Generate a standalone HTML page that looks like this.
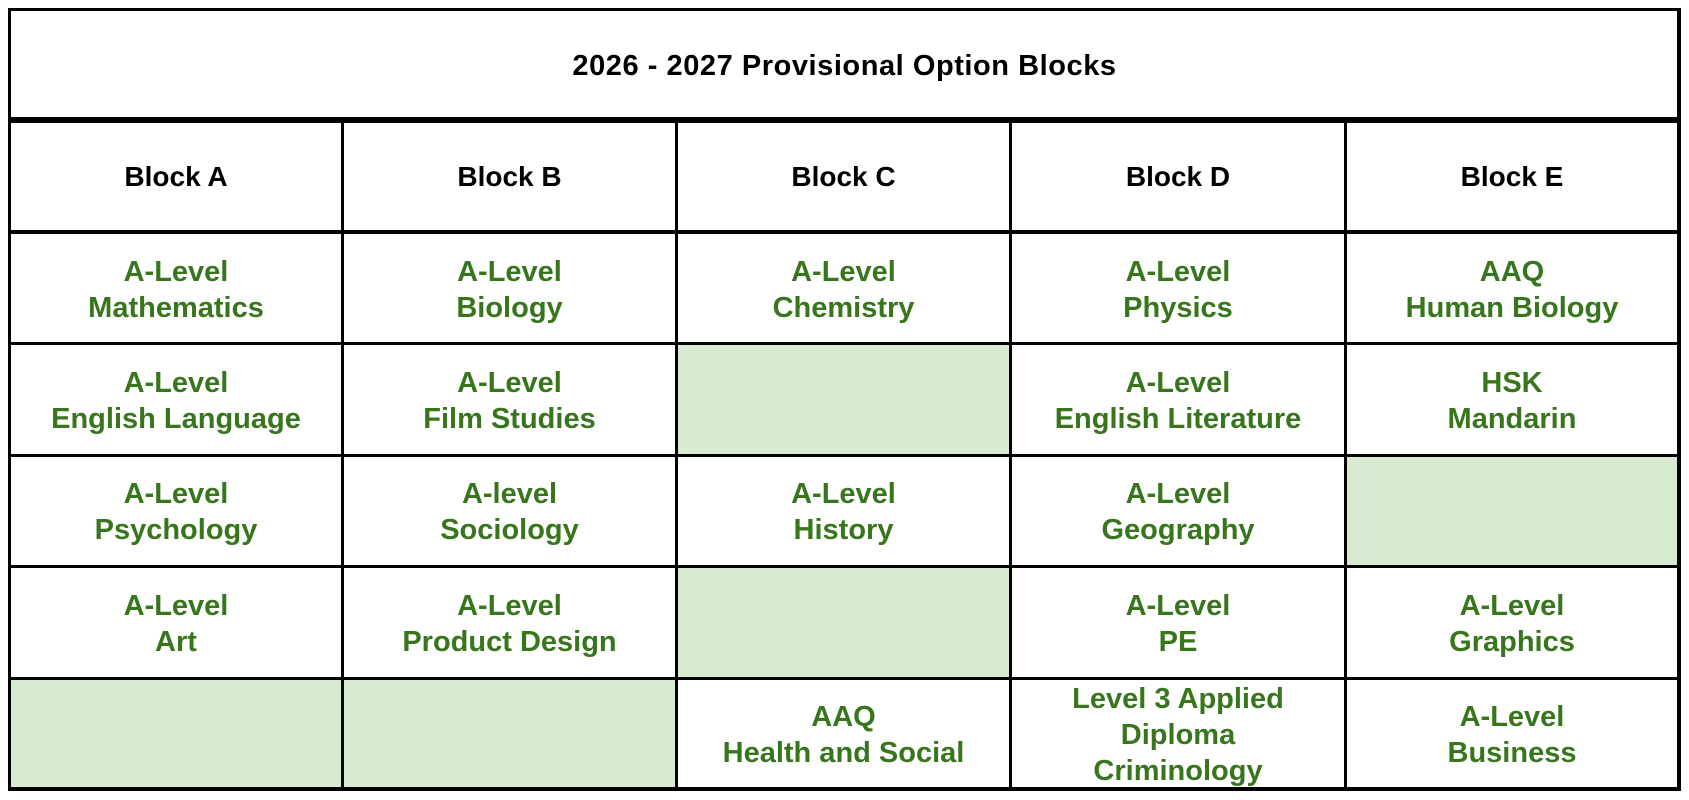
<!DOCTYPE html>
<html>
<head>
<meta charset="utf-8">
<style>
  html, body { margin:0; padding:0; background:#ffffff; }
  body { width:1689px; height:800px; position:relative; overflow:hidden;
         font-family:"Liberation Sans", Arial, sans-serif; font-weight:bold; }
  .ln { position:absolute; background:#000; }
  .fill { position:absolute; background:#d9ead3; }
  .t { position:absolute; text-align:center; white-space:nowrap; }
  .g { color:#38761d; font-size:29px; line-height:36px; }
  .h { color:#000; font-size:28px; line-height:36px; }
</style>
</head>
<body>
<!-- green fills -->
<div class="fill" style="left:678px;top:345px;width:331px;height:109px;"></div>
<div class="fill" style="left:1347px;top:457px;width:330px;height:108px;"></div>
<div class="fill" style="left:678px;top:568px;width:331px;height:109px;"></div>
<div class="fill" style="left:11px;top:680px;width:330px;height:107px;"></div>
<div class="fill" style="left:344px;top:680px;width:331px;height:107px;"></div>

<!-- outer border -->
<div class="ln" style="left:8px;top:8px;width:1673px;height:3px;"></div>
<div class="ln" style="left:8px;top:787px;width:1673px;height:4px;"></div>
<div class="ln" style="left:8px;top:8px;width:3px;height:783px;"></div>
<div class="ln" style="left:1677px;top:8px;width:4px;height:783px;"></div>

<!-- horizontal lines -->
<div class="ln" style="left:8px;top:117px;width:1673px;height:6px;"></div>
<div class="ln" style="left:8px;top:230px;width:1673px;height:4px;"></div>
<div class="ln" style="left:8px;top:342px;width:1673px;height:3px;"></div>
<div class="ln" style="left:8px;top:454px;width:1673px;height:3px;"></div>
<div class="ln" style="left:8px;top:565px;width:1673px;height:3px;"></div>
<div class="ln" style="left:8px;top:677px;width:1673px;height:3px;"></div>

<!-- vertical lines -->
<div class="ln" style="left:341px;top:120px;width:3px;height:670px;"></div>
<div class="ln" style="left:675px;top:120px;width:3px;height:670px;"></div>
<div class="ln" style="left:1009px;top:120px;width:3px;height:670px;"></div>
<div class="ln" style="left:1344px;top:120px;width:3px;height:670px;"></div>

<!-- title -->
<div class="t h" style="left:0;width:1689px;top:48px;font-size:29px;letter-spacing:0.55px;">2026 - 2027 Provisional Option Blocks</div>

<!-- headers -->
<div class="t h" style="left:11px;width:330px;top:159px;">Block A</div>
<div class="t h" style="left:344px;width:331px;top:159px;">Block B</div>
<div class="t h" style="left:678px;width:331px;top:159px;">Block C</div>
<div class="t h" style="left:1012px;width:332px;top:159px;">Block D</div>
<div class="t h" style="left:1347px;width:330px;top:159px;">Block E</div>

<!-- row 1 -->
<div class="t g" style="left:11px;width:330px;top:254px;">A-Level<br>Mathematics</div>
<div class="t g" style="left:344px;width:331px;top:254px;">A-Level<br>Biology</div>
<div class="t g" style="left:678px;width:331px;top:254px;">A-Level<br>Chemistry</div>
<div class="t g" style="left:1012px;width:332px;top:254px;">A-Level<br>Physics</div>
<div class="t g" style="left:1347px;width:330px;top:254px;">AAQ<br>Human Biology</div>

<!-- row 2 -->
<div class="t g" style="left:11px;width:330px;top:365px;">A-Level<br>English Language</div>
<div class="t g" style="left:344px;width:331px;top:365px;">A-Level<br>Film Studies</div>
<div class="t g" style="left:1012px;width:332px;top:365px;">A-Level<br>English Literature</div>
<div class="t g" style="left:1347px;width:330px;top:365px;">HSK<br>Mandarin</div>

<!-- row 3 -->
<div class="t g" style="left:11px;width:330px;top:476px;">A-Level<br>Psychology</div>
<div class="t g" style="left:344px;width:331px;top:476px;">A-level<br>Sociology</div>
<div class="t g" style="left:678px;width:331px;top:476px;">A-Level<br>History</div>
<div class="t g" style="left:1012px;width:332px;top:476px;">A-Level<br>Geography</div>

<!-- row 4 -->
<div class="t g" style="left:11px;width:330px;top:588px;">A-Level<br>Art</div>
<div class="t g" style="left:344px;width:331px;top:588px;">A-Level<br>Product Design</div>
<div class="t g" style="left:1012px;width:332px;top:588px;">A-Level<br>PE</div>
<div class="t g" style="left:1347px;width:330px;top:588px;">A-Level<br>Graphics</div>

<!-- row 5 -->
<div class="t g" style="left:678px;width:331px;top:699px;">AAQ<br>Health and Social</div>
<div style="position:absolute;left:1012px;top:680px;width:332px;height:107px;overflow:hidden;">
  <div class="t g" style="left:0;width:332px;top:1px;">Level 3 Applied<br>Diploma<br>Criminology</div>
</div>
<div class="t g" style="left:1347px;width:330px;top:699px;">A-Level<br>Business</div>
</body>
</html>
